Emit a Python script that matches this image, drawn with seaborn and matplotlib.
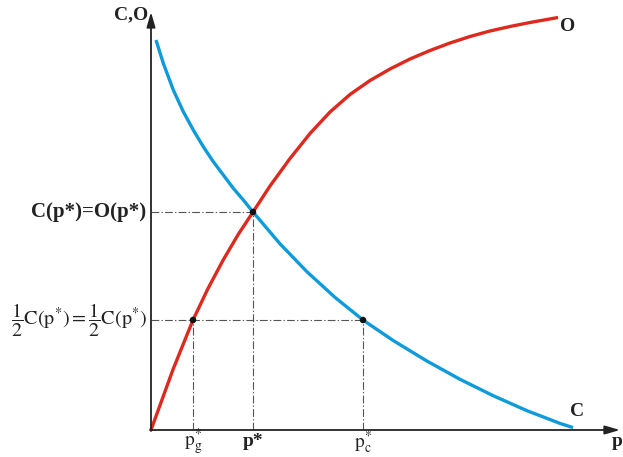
import matplotlib
matplotlib.use("Agg")
import matplotlib.pyplot as plt
import seaborn as sns
import pandas as pd

# Output curve O(p): rises from the origin and levels off
o_p = [0.00, 0.22, 0.42, 0.57, 0.72, 0.87, 1.02, 1.19, 1.39, 1.59, 1.79,
       1.99, 2.19, 2.39, 2.59, 2.79, 2.99, 3.19, 3.39, 3.59, 3.79, 4.07]
o_val = [0.00, 0.605, 1.10, 1.415, 1.697, 1.952, 2.18, 2.44, 2.715, 2.965, 3.18,
         3.355, 3.495, 3.61, 3.71, 3.795, 3.87, 3.935, 3.99, 4.035, 4.075, 4.125]

# Cost curve C(p): falls towards zero
c_p = [0.05, 0.123, 0.223, 0.323, 0.423, 0.523, 0.623, 0.723, 0.823, 0.923,
       1.02, 1.29, 1.56, 1.84, 2.12, 2.42, 2.76, 3.09, 3.42, 3.76, 4.09, 4.22]
c_val = [3.90, 3.667, 3.40, 3.183, 3.00, 2.833, 2.683, 2.55, 2.417, 2.30,
         2.18, 1.862, 1.582, 1.326, 1.10, 0.896, 0.689, 0.507, 0.344, 0.193,
         0.066, 0.024]

# Marked points: equilibrium and the half-level crossings
p_g, p_star, p_c = 0.42, 1.02, 2.12
c_star = 2.18
half_c = 1.10

x_max, y_max = 4.69, 4.18

sns.set_style("white")
plt.rcParams["font.family"] = ["Liberation Serif", "DejaVu Serif"]
plt.rcParams["mathtext.fontset"] = "stix"

fig = plt.figure(figsize=(6.23, 4.57), dpi=100)
ax = fig.add_axes([151 / 623, 27 / 457, (620 - 151) / 623, (430 - 12) / 457])
ax.set_xlim(0, x_max)
ax.set_ylim(0, y_max)
for s in ax.spines.values():
    s.set_visible(False)
ax.set_xticks([])
ax.set_yticks([])

red = "#dc2a1f"
blue = "#0f9bd9"

sns.lineplot(x=o_p, y=o_val, ax=ax, color=red, lw=2.4, sort=False,
             solid_capstyle="butt", solid_joinstyle="round", clip_on=False)
sns.lineplot(x=c_p, y=c_val, ax=ax, color=blue, lw=2.4, sort=False,
             solid_capstyle="butt", solid_joinstyle="round", clip_on=False)

# Dash-dot guide lines
guide = dict(color="#555555", lw=0.8, linestyle=(0, (7, 2, 1.2, 2)), zorder=1)
ax.plot([0, p_star], [c_star, c_star], **guide)
ax.plot([p_star, p_star], [0, c_star], **guide)
ax.plot([0, p_c], [half_c, half_c], **guide)
ax.plot([p_g, p_g], [0, half_c], **guide)
ax.plot([p_c, p_c], [0, half_c], **guide)

pts = pd.DataFrame({"p": [p_star, p_g, p_c], "v": [c_star, half_c, half_c]})
sns.scatterplot(data=pts, x="p", y="v", ax=ax, color="#111111", s=22,
                edgecolor="none", zorder=5, clip_on=False)

# Axes with arrow heads
arrow = dict(arrowstyle="-|>,head_length=0.9,head_width=0.26", color="#222222",
             lw=1.3, shrinkA=0, shrinkB=0)
ax.annotate("", xy=(x_max, 0), xytext=(-0.01, 0), arrowprops=arrow,
            annotation_clip=False)
ax.annotate("", xy=(0, y_max), xytext=(0, -0.01), arrowprops=arrow,
            annotation_clip=False)

bold = dict(fontweight="bold", fontsize=14, color="#222222")
ax.text(-0.03, 4.15, "C,O", ha="right", va="center", **bold)
ax.text(4.17, 4.03, "O", ha="center", va="center", **bold)
ax.text(4.26, 0.18, "C", ha="center", va="center", **bold)
ax.text(4.66, -0.12, "p", ha="center", va="center", **bold)

ax.text(p_star, -0.12, "p*", ha="center", va="center", **bold)
ax.text(p_g, -0.12, r"$\mathrm{p}_{\mathrm{g}}^{*}$", ha="center", va="center",
        fontsize=14, color="#222222")
ax.text(p_c, -0.12, r"$\mathrm{p}_{\mathrm{c}}^{*}$", ha="center", va="center",
        fontsize=14, color="#222222")

ax.text(-0.05, c_star, "C(p*)=O(p*)", ha="right", va="center",
        fontweight="bold", fontsize=15, color="#222222")
ax.text(-0.04, half_c,
        r"$\dfrac{1}{2}\mathrm{C}(\mathrm{p}^{*})=\dfrac{1}{2}\mathrm{C}(\mathrm{p}^{*})$",
        ha="right", va="center", fontsize=14.5, color="#222222")

fig.savefig("out.png", dpi=100)
